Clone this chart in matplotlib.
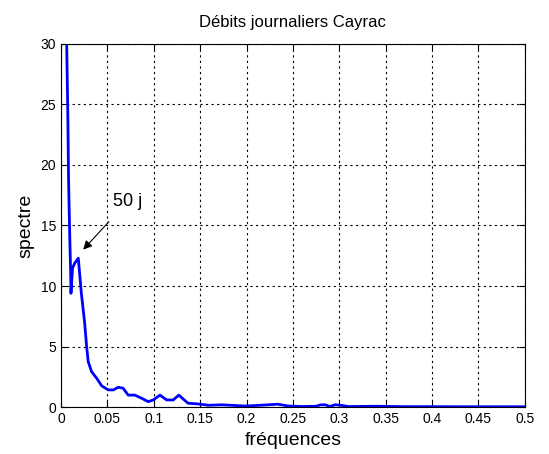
import numpy as np
import matplotlib.pyplot as plt

plt.rcParams['font.family'] = ['Liberation Sans', 'DejaVu Sans']

# spectre des debits journaliers
freq = [0.0055, 0.0062, 0.0075, 0.0082, 0.0095, 0.0105, 0.0108, 0.0125, 0.015,
        0.0187, 0.022, 0.0255, 0.0277, 0.0294, 0.033, 0.0385, 0.044, 0.051,
        0.0565, 0.0618, 0.067, 0.0725, 0.0797, 0.087, 0.094, 0.0995, 0.1067,
        0.114, 0.121, 0.127, 0.137, 0.148, 0.159, 0.173, 0.184, 0.198, 0.212,
        0.234, 0.245, 0.26, 0.275, 0.28, 0.285, 0.29, 0.295, 0.3, 0.31, 0.34,
        0.37, 0.4, 0.43, 0.46, 0.5]
spectre = [45.0, 30.0, 23.7, 18.8, 14.1, 11.0, 9.4, 11.5, 11.9,
           12.3, 9.4, 7.0, 5.0, 3.76, 2.94, 2.39, 1.76, 1.43,
           1.43, 1.65, 1.57, 1.0, 1.0, 0.74, 0.46, 0.6, 1.0,
           0.6, 0.6, 1.0, 0.33, 0.27, 0.16, 0.2, 0.16, 0.1, 0.15,
           0.25, 0.1, 0.06, 0.08, 0.2, 0.2, 0.06, 0.2, 0.18, 0.06, 0.08,
           0.05, 0.05, 0.04, 0.04, 0.04]

fig = plt.figure(figsize=(5.49, 4.54), dpi=100)
ax = fig.add_axes([0.111, 0.103, 0.845, 0.801])

ax.plot(freq, spectre, color=(0, 0, 1), linewidth=2)
ax.set_xlim(0, 0.5)
ax.set_ylim(0, 30)
ax.set_xticks(np.arange(0, 0.51, 0.05))
ax.set_xticklabels(['0', '0.05', '0.1', '0.15', '0.2', '0.25', '0.3', '0.35', '0.4', '0.45', '0.5'])
ax.set_yticks(np.arange(0, 31, 5))
ax.tick_params(direction='in', labelsize=10, length=4, top=True, right=True)
ax.grid(True, color='black', linestyle=(0, (2, 3)), linewidth=0.8)

ax.set_title('Débits journaliers Cayrac', fontsize=12, pad=12)
ax.set_xlabel('fréquences', fontsize=14)
ax.set_ylabel('spectre', fontsize=14)

ax.annotate('50 j', xy=(0.024, 13.0), xytext=(0.072, 17.0), fontsize=13,
            ha='center', va='center',
            arrowprops=dict(arrowstyle='-|>', color='black', lw=0.8, shrinkA=9, shrinkB=0))

plt.savefig('out.png', dpi=100)
